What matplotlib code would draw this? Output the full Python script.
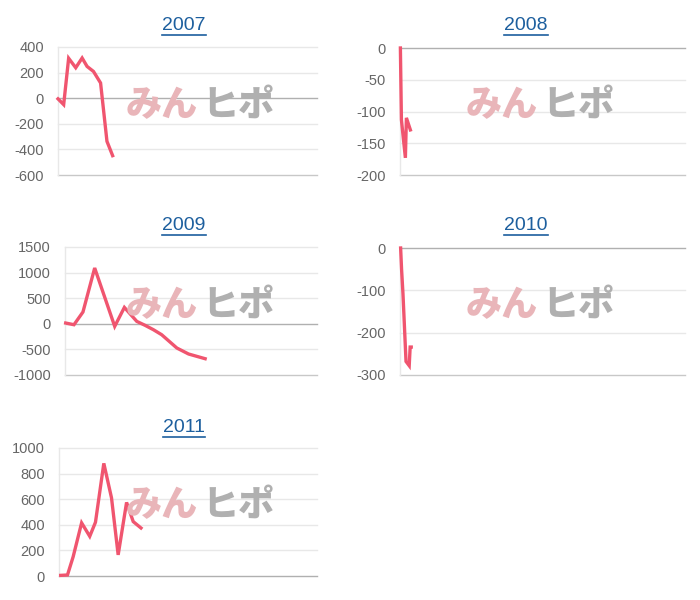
import matplotlib
matplotlib.use("Agg")
import matplotlib.pyplot as plt
from matplotlib.lines import Line2D

plt.rcParams['font.family'] = ['Liberation Sans', 'DejaVu Sans']
plt.rcParams['axes.unicode_minus'] = False

# ---- data (x = day offset within the period, y = value) ----
years = ["2007", "2008", "2009", "2010", "2011"]

x2007 = [0, 8, 15, 25, 34, 41, 50, 60, 69, 77]
y2007 = [-5, -50, 312, 238, 314, 248, 209, 119, -337, -449]

x2008 = [0.5, 1.8, 6.9, 8.2, 13.3]
y2008 = [0, -113, -173, -110, -129]

x2009 = [1, 13, 26, 43, 72, 86, 104, 116, 128, 140, 162, 179, 203]
y2009 = [15, -18, 230, 1090, -50, 320, 47, -30, -115, -213, -473, -590, -682]

x2010 = [0.8, 2, 3.8, 7.7, 11.8, 13, 14.4]
y2010 = [0, -50, -108, -268, -278, -234, -234]

x2011 = [2.4, 12, 20, 32, 43.5, 51.6, 63.4, 74.3, 83.7, 95.6, 105, 116]
y2011 = [5, 8, 150, 415, 310, 420, 880, 610, 165, 575, 425, 375]

xs = [x2007, x2008, x2009, x2010, x2011]
ys = [y2007, y2008, y2009, y2010, y2011]

ylims = [(-600, 400), (-200, 0), (-1000, 1500), (-300, 0), (0, 1000)]
ysteps = [200, 50, 500, 100, 200]

# panel boxes in pixels: left, right, top, bottom
boxes = [(58, 317, 47, 175), (400, 685, 48, 175),
         (65, 317, 247, 375), (400, 685, 248, 375),
         (59, 317, 448, 576)]
title_pos = [(184, 25), (526, 25), (184, 225), (526, 225), (184, 427)]
wm_center = [(200, 105), (540, 105), (200, 305), (540, 305), (200, 505)]

W, H = 700, 600
fig = plt.figure(figsize=(7, 6), dpi=100)

LINE = '#f0556f'
titles = []
for i, yr in enumerate(years):
    l, r, t, b = boxes[i]
    ax = fig.add_axes([l / W, 1 - b / H, (r - l) / W, (b - t) / H])
    lo, hi = ylims[i]
    ticks = list(range(lo, hi + 1, ysteps[i]))
    ax.set_ylim(lo, hi)
    ax.set_xlim(0, 365)
    ax.set_yticks(ticks)
    ax.set_xticks([])
    for tk in ticks:
        if tk == 0:
            col = '#b0b0b0'
        elif tk == lo:
            col = '#c8c8c8'
        else:
            col = '#e8e8e8'
        ax.axhline(tk, color=col, lw=1, zorder=1, clip_on=False)
    ax.axvline(0, color='#e8e8e8', lw=1, zorder=1, clip_on=False)
    for s in ax.spines.values():
        s.set_visible(False)
    ax.tick_params(axis='y', length=0, pad=10, labelsize=10.5, labelcolor='#666666')
    ax.plot(xs[i], ys[i], color=LINE, lw=2.4, zorder=3, solid_joinstyle='miter',
            clip_on=False)

    # watermark
    cx, cy = wm_center[i]
    fig.text((cx - 2) / W, 1 - cy / H, "みん", ha='right', va='center',
             fontsize=26, fontweight='black', color='#e9b5b9',
             family=['Noto Sans CJK JP', 'DejaVu Sans'], zorder=2)
    fig.text((cx + 2) / W, 1 - cy / H, "ヒポ", ha='left', va='center',
             fontsize=26, fontweight='black', color='#b0b0b0',
             family=['Noto Sans CJK JP', 'DejaVu Sans'], zorder=2)

    tx, ty = title_pos[i]
    titles.append(fig.text(tx / W, 1 - ty / H, yr, ha='center', va='center',
                           fontsize=14, color='#1d5f9e'))

fig.canvas.draw()
rend = fig.canvas.get_renderer()
for t in titles:
    bb = t.get_window_extent(renderer=rend)
    yline = bb.y0 - 1
    fig.add_artist(Line2D([bb.x0 / W, bb.x1 / W], [yline / H, yline / H],
                          color='#1d5f9e', lw=1.2, transform=fig.transFigure))

fig.savefig("out.png", dpi=100)
